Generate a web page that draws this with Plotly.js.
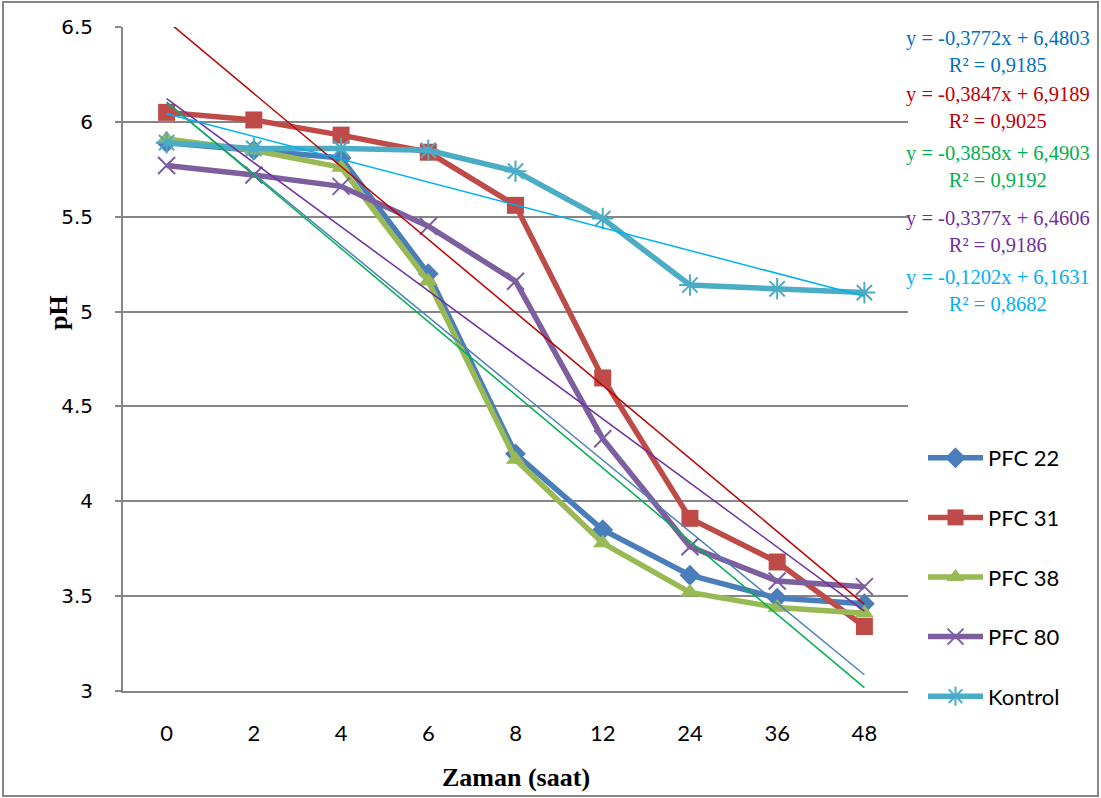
<!DOCTYPE html>
<html>
<head>
<meta charset="utf-8">
<script src="https://cdn.plot.ly/plotly-3.0.1.min.js"></script>
<style>html,body{margin:0;padding:0;background:#fff;}#chart{width:1101px;height:798px;}</style>
</head>
<body>
<div id="chart"></div>
<script>
// Categories (time, hours)
const categories = ['0', '2', '4', '6', '8', '12', '24', '36', '48'];

// Series names
const seriesNames = ['PFC 22', 'PFC 31', 'PFC 38', 'PFC 80', 'Kontrol'];

// pH values per series
const pfc22 = [5.89, 5.85, 5.81, 5.20, 4.25, 3.85, 3.61, 3.49, 3.46];
const pfc31 = [6.05, 6.01, 5.93, 5.84, 5.56, 4.65, 3.91, 3.68, 3.34];
const pfc38 = [5.91, 5.85, 5.76, 5.16, 4.22, 3.78, 3.52, 3.44, 3.41];
const pfc80 = [5.77, 5.72, 5.66, 5.45, 5.16, 4.33, 3.76, 3.58, 3.55];
const kontrol = [5.89, 5.86, 5.86, 5.85, 5.74, 5.49, 5.14, 5.12, 5.10];

// Linear trendline coefficients (x = category index starting at 1), and R²
const trendSlopes = [-0.3772, -0.3847, -0.3858, -0.3377, -0.1202];
const trendIntercepts = [6.4803, 6.9189, 6.4903, 6.4606, 6.1631];
const trendR2 = [0.9185, 0.9025, 0.9192, 0.9186, 0.8682];

// Y axis ticks
const yTicks = [3, 3.5, 4, 4.5, 5, 5.5, 6, 6.5];

const seriesValues = [pfc22, pfc31, pfc38, pfc80, kontrol];
const seriesColors = ['#4A7EBB', '#BE4B48', '#98B954', '#7D5FA0', '#4BACC6'];
const seriesSymbols = ['diamond', 'square', 'triangle-up', 'x-thin-open', 'asterisk-open'];
const seriesSizes = [16, 17, 17, 17, 18];
const trendColors = ['#4F81BD', '#C00000', '#00B050', '#7030A0', '#00B0F0'];
const eqColors = ['#0070C0', '#C00000', '#00B050', '#7030A0', '#00B0F0'];

const traces = [];
seriesValues.forEach((vals, i) => {
  const open = seriesSymbols[i].indexOf('open') >= 0;
  traces.push({
    type: 'scatter', mode: 'lines+markers', name: seriesNames[i],
    x: categories, y: vals, legendgroup: 'g' + i,
    line: {color: seriesColors[i], width: 5.5},
    marker: {
      symbol: seriesSymbols[i], size: seriesSizes[i], color: seriesColors[i],
      line: {color: seriesColors[i], width: open ? 2 : 0}
    },
    cliponaxis: false
  });
});
trendSlopes.forEach((a, i) => {
  traces.push({
    type: 'scatter', mode: 'lines', showlegend: false, hoverinfo: 'skip',
    x: categories, y: categories.map((c, k) => a * (k + 1) + trendIntercepts[i]),
    line: {color: trendColors[i], width: 1.5}
  });
});

function fmt(v) { return v.toFixed(4).replace('.', ','); }

const L = 123, R = 908, T = 27, B = 691, W = 1101, H = 798;
const px = x => (x - L) / (R - L);
const py = y => (B - y) / (B - T);

const serif = '"Liberation Serif", "Times New Roman", serif';
const eqY = [51.5, 108, 166, 231, 291];
const annotations = trendSlopes.map((a, i) => ({
  xref: 'paper', yref: 'paper', x: px(998), y: py(eqY[i]),
  xanchor: 'center', yanchor: 'middle', align: 'center', showarrow: false,
  text: 'y = ' + fmt(a) + 'x + ' + fmt(trendIntercepts[i]) + '<br>R² = ' + fmt(trendR2[i]),
  font: {family: serif, size: 20.5, color: eqColors[i]}
}));
annotations.push({
  xref: 'paper', yref: 'paper', x: px(58), y: py(313), textangle: -90,
  xanchor: 'center', yanchor: 'middle', showarrow: false, text: '<b>pH</b>',
  font: {family: serif, size: 26, color: '#000'}
});
annotations.push({
  xref: 'paper', yref: 'paper', x: px(516), y: py(777),
  xanchor: 'center', yanchor: 'middle', showarrow: false, text: '<b>Zaman (saat)</b>',
  font: {family: serif, size: 26, color: '#000'}
});

const layout = {
  width: W, height: H,
  margin: {l: L, r: W - R, t: T, b: H - B, pad: 0},
  paper_bgcolor: '#fff', plot_bgcolor: '#fff',
  showlegend: true,
  xaxis: {
    type: 'category', categoryorder: 'array', categoryarray: categories,
    range: [-0.5, 8.5], showgrid: false, zeroline: false,
    showline: true, linecolor: '#868686', linewidth: 2,
    ticks: '', ticklabelstandoff: 22,
    tickfont: {family: 'Lato, Carlito, sans-serif', size: 22, color: '#000'}
  },
  yaxis: {
    range: [3, 6.5], tickvals: yTicks, ticktext: yTicks.map(String),
    showgrid: true, gridcolor: '#868686', gridwidth: 2, zeroline: false,
    showline: true, linecolor: '#868686', linewidth: 2,
    ticks: 'outside', ticklen: 6, tickcolor: '#868686', tickwidth: 2,
    ticklabelstandoff: 18,
    tickfont: {family: '"DejaVu Sans", Verdana, sans-serif', size: 20, color: '#000'}
  },
  legend: {
    x: px(923), y: py(437), xanchor: 'left', yanchor: 'top',
    bgcolor: 'rgba(0,0,0,0)', traceorder: 'grouped', tracegroupgap: 28,
    itemwidth: 55,
    font: {family: 'Lato, Carlito, sans-serif', size: 22, color: '#000'}
  },
  annotations: annotations,
  shapes: [{
    type: 'rect', xref: 'paper', yref: 'paper',
    x0: px(3), x1: px(1098), y0: py(796), y1: py(2),
    line: {color: '#868686', width: 2}, fillcolor: 'rgba(0,0,0,0)', layer: 'below'
  }]
};

Plotly.newPlot('chart', traces, layout, {displayModeBar: false, staticPlot: true});
</script>
</body>
</html>
